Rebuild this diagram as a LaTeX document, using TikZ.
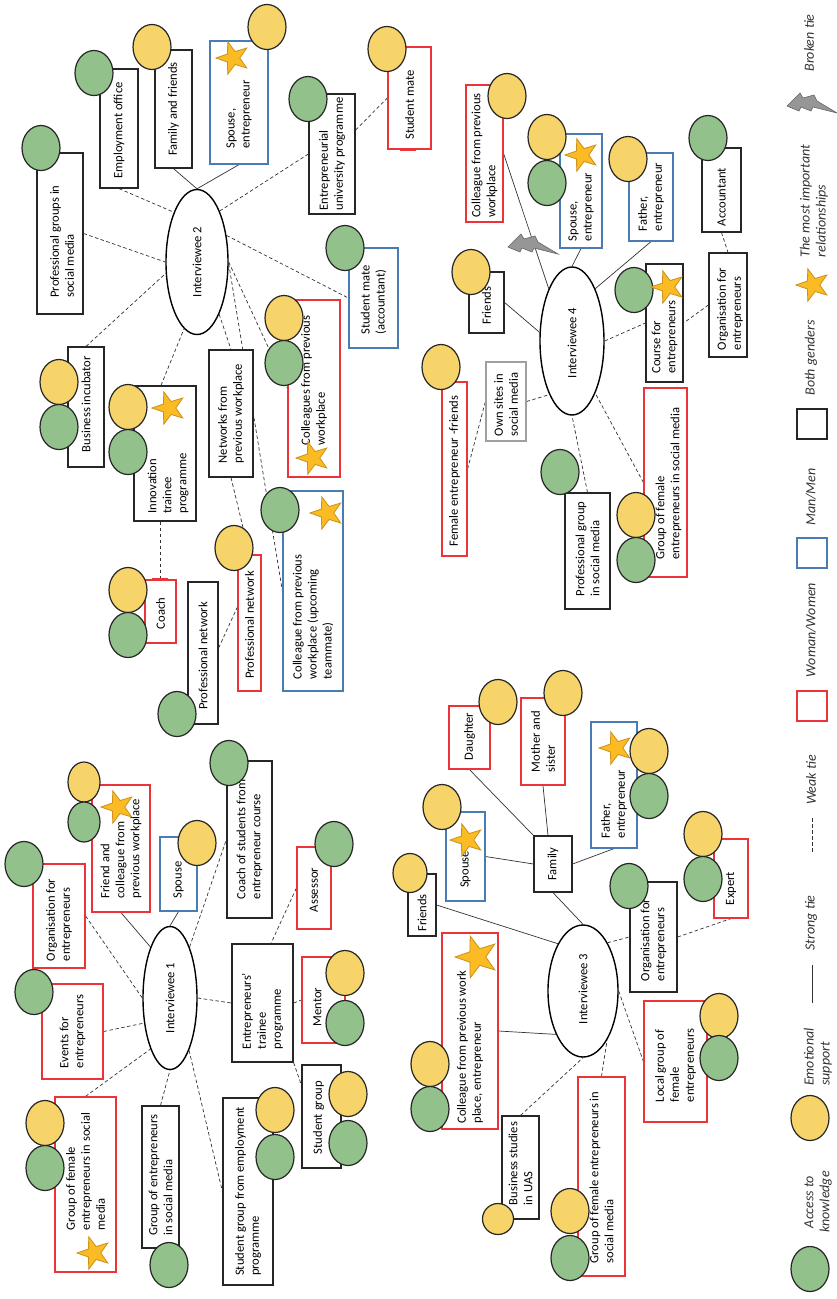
\documentclass[tikz,border=0pt]{standalone}
\usepackage{fontspec}
\setmainfont{Carlito}
\usetikzlibrary{shapes.geometric,backgrounds,calc}
\definecolor{yel}{RGB}{247,212,106}
\definecolor{grn}{RGB}{146,193,139}
\definecolor{redc}{RGB}{236,52,56}
\definecolor{bluec}{RGB}{72,124,178}
\definecolor{starf}{RGB}{251,187,36}
\definecolor{stard}{RGB}{205,145,25}
\definecolor{boltf}{RGB}{150,150,150}
\definecolor{boltd}{RGB}{100,100,100}
\newcommand\mkbox[9]{%
 \node[#2, minimum width={(#5)-(#3)}, minimum height={(#6)-(#4)}] (#1) at ({((#3)+(#5))/2},{((#4)+(#6))/2}) {};
 \node[txt] (#1-t) at ({((#3)+(#5))/2+(#7)},{((#4)+(#6))/2+(#8)}) {#9};}
\begin{document}
\begin{tikzpicture}[x=1pt,y=-1pt,
 bxs/.style={draw=black!85, line width=1.2pt, fill=white, inner sep=0pt},
 rbox/.style={bxs, draw=redc},
 bbox/.style={bxs, draw=bluec},
 gbox/.style={bxs, draw=gray!75},
 txt/.style={rotate=90, align=left, font=\fontsize{12.6}{15}\selectfont, inner sep=0pt},
 lgd/.style={rotate=90, align=left, font=\fontsize{14}{16}\selectfont\itshape, inner sep=0pt, text=black!80},
 yc/.style={ellipse, draw=black!85, line width=1.2pt, fill=yel, minimum width=38pt, minimum height=45pt, inner sep=0pt},
 gc/.style={yc, fill=grn},
 starn/.style={star, star points=5, star point ratio=2.5, fill=starf, draw=stard, line width=0.8pt, minimum size=34pt, inner sep=0pt, rotate=90},
 iv/.style={ellipse, draw=black, line width=1.4pt, fill=white, inner sep=0pt},
 strong/.style={draw=black!80, line width=0.7pt},
 weak/.style={draw=black!80, line width=0.7pt, dash pattern=on 3.5pt off 2.5pt},
 boltst/.style={fill=boltf, draw=boltd, line width=0.6pt, line join=miter},
 redbar/.style={draw=redc, line width=3pt}]
\useasboundingbox (0,0) rectangle (837,1299);
\begin{scope}[on background layer]
\fill[white] (0,0) rectangle (837,1299);
\end{scope}

% ---------------- Interviewee 2 ----------------
\node[iv, minimum width=62pt, minimum height=145pt] (i2) at (197,262) {};
\node[txt] (i2-t) at (197,262) {Interviewee 2};
\mkbox{apgs}{bxs}{37}{153}{83}{314}{2}{8}{Professional groups in\\social media}
\node[gc] (apgs-g) at (41,148) {};
\mkbox{aemp}{bxs}{100}{69}{138}{188}{0}{2}{Employment office}
\node[gc] (aemp-g) at (94,73) {};
\mkbox{aff}{bxs}{155}{50}{192}{168}{0}{0}{Family and friends}
\node[yc] (aff-y) at (152,47) {};
\mkbox{asp}{bbox}{210}{41}{268}{164}{0}{12}{Spouse,\\entrepreneur}
\node[yc] (asp-y) at (267,27) {};
\node[starn] (asp-s) at (233,58) {};
\mkbox{aeup}{bxs}{309}{94}{355}{214}{0}{0}{Entrepreneurial\\university programme}
\node[gc] (aeup-g) at (308,99) {};
\mkbox{asm}{rbox}{388}{47}{431}{149}{0}{7}{Student mate}
\node[yc] (asm-y) at (387,49) {};
\mkbox{asma}{bbox}{349}{248}{398}{348}{0}{2}{Student mate\\(accountant)}
\node[gc] (asma-g) at (345,248) {};
\mkbox{acol}{rbox}{288}{300}{340}{477}{0}{-8}{Colleagues from previous\\workplace}
\node[yc] (acol-y) at (284,318) {};
\node[gc] (acol-g) at (284,363) {};
\node[starn] (acol-s) at (313,458) {};
\mkbox{anet}{bxs}{209}{350}{253}{477}{0}{0}{Networks from\\previous workplace}
\mkbox{abi}{bxs}{68}{347}{104}{467}{0}{-3}{Business incubator}
\node[yc] (abi-y) at (59,382) {};
\node[gc] (abi-g) at (59,427) {};
\mkbox{aitp}{bxs}{134}{386}{196}{521}{3}{30}{Innovation\\trainee\\programme}
\node[yc] (aitp-y) at (128,407) {};
\node[gc] (aitp-g) at (128,452) {};
\node[starn] (aitp-s) at (169,408) {};
\mkbox{acoach}{rbox}{145}{580}{176}{643}{0}{2}{Coach}
\node[yc] (acoach-y) at (128,590) {};
\node[gc] (acoach-g) at (128,635) {};
\mkbox{apn}{bxs}{188}{582}{218}{724}{0}{3}{Professional network}
\node[gc] (apn-g) at (177,714) {};
\mkbox{apnr}{rbox}{238}{555}{261}{691}{0}{2}{Professional network}
\node[yc] (apnr-y) at (234,548) {};
\mkbox{aup}{bbox}{283}{491}{343}{691}{0}{26}{Colleague from previous\\workplace (upcoming\\teammate)}
\node[gc] (aup-g) at (280,510) {};
\node[starn] (aup-s) at (327,513) {};
\draw[redbar] ([xshift=-9.5pt]asm.south) -- ([xshift=6.5pt]asm.south);
\draw[redbar] ([xshift=-8.5pt]acoach.north) -- ([xshift=7.5pt]acoach.north);

% ---------------- Interviewee 4 ----------------
\node[iv, minimum width=64pt, minimum height=148pt] (i4) at (572,341) {};
\node[txt] (i4-t) at (572,343) {Interviewee 4};
\mkbox{bcol}{rbox}{466}{85}{503}{222}{0}{2}{Colleague from previous\\workplace}
\node[yc] (bcol-y) at (507,96) {};
\mkbox{bsp}{bbox}{560}{134}{602}{248}{0}{16}{Spouse,\\entrepreneur}
\node[yc] (bsp-y) at (547,137) {};
\node[gc] (bsp-g) at (547,183) {};
\node[starn] (bsp-s) at (582,155) {};
\mkbox{bfa}{bbox}{629}{153}{673}{241}{0}{0}{Father,\\entrepreneur}
\node[yc] (bfa-y) at (628,159) {};
\mkbox{bacc}{bxs}{702}{148}{741}{232}{0}{7}{Accountant}
\node[gc] (bacc-g) at (708,138) {};
\mkbox{borg}{bxs}{709}{253}{747}{357}{2}{4}{Organisation for\\entrepreneurs}
\mkbox{bcou}{bxs}{646}{264}{683}{382}{0}{14}{Course for\\entrepreneurs}
\node[gc] (bcou-g) at (634,290) {};
\node[starn] (bcou-s) at (668,287) {};
\mkbox{bfr}{bxs}{469}{272}{504}{333}{0}{3}{Friends}
\node[yc] (bfr-y) at (471,272) {};
\mkbox{bown}{gbox}{486}{362}{526}{441}{0}{3}{Own sites in\\social media}
\mkbox{bfef}{rbox}{442}{382}{467}{556}{0}{2}{Female entrepreneur -friends}
\node[yc] (bfef-y) at (441,367) {};
\mkbox{bpg}{bxs}{565}{493}{610}{609}{0}{-2}{Professional group\\in social media}
\node[gc] (bpg-g) at (560,472) {};
\mkbox{bgf}{rbox}{644}{388}{687}{577}{3}{1}{Group of female\\entrepreneurs in social media}
\node[yc] (bgf-y) at (636,515) {};
\node[gc] (bgf-g) at (636,560) {};

% ---------------- Interviewee 1 ----------------
\node[iv, minimum width=54pt, minimum height=143pt] (i1) at (170,998) {};
\node[txt] (i1-t) at (170,998) {Interviewee 1};
\mkbox{corg}{rbox}{33}{864}{85}{968}{0}{4}{Organisation for\\entrepreneurs}
\node[gc] (corg-g) at (24,864) {};
\mkbox{cev}{rbox}{42}{984}{103}{1079}{0}{0}{Events for\\entrepreneurs}
\node[gc] (cev-g) at (34,992) {};
\mkbox{cgf}{rbox}{55}{1097}{116}{1272}{0}{-13}{Group of female\\entrepreneurs in social\\media}
\node[yc] (cgf-y) at (45,1123) {};
\node[gc] (cgf-g) at (45,1168) {};
\node[starn] (cgf-s) at (94,1253) {};
\mkbox{cges}{bxs}{142}{1106}{179}{1248}{0}{-2}{Group of entrepreneurs\\in social media}
\node[gc] (cges-g) at (169,1265) {};
\mkbox{csge}{bxs}{223}{1098}{273}{1285}{0}{0}{Student group from employment\\programme}
\node[yc] (csge-y) at (275,1110) {};
\node[gc] (csge-g) at (275,1157) {};
\mkbox{cfc}{rbox}{92}{785}{150}{912}{0}{0}{Friend and\\colleague from\\previous workplace}
\node[yc, minimum width=32pt, minimum height=40pt] (cfc-y) at (84,782) {};
\node[gc, minimum width=32pt, minimum height=40pt] (cfc-g) at (84,822) {};
\node[starn] (cfc-s) at (118,807) {};
\mkbox{csp}{bbox}{160}{837}{197}{911}{0}{6}{Spouse}
\node[yc] (csp-y) at (197,843) {};
\mkbox{ccoach}{bxs}{227}{761}{272}{918}{0}{0}{Coach of students from\\entrepreneur course}
\node[gc] (ccoach-g) at (229,763) {};
\mkbox{cas}{rbox}{297}{847}{331}{929}{0}{2}{Assessor}
\node[gc] (cas-g) at (334,844) {};
\mkbox{cetp}{bxs}{232}{944}{293}{1062}{0}{8}{Entrepreneurs'\\trainee\\programme}
\mkbox{cmen}{rbox}{302}{957}{345}{1043}{-6}{7}{Mentor}
\node[yc] (cmen-y) at (345,973) {};
\node[gc] (cmen-g) at (345,1023) {};
\mkbox{csg}{bxs}{302}{1065}{341}{1168}{-3}{1}{Student group}
\node[yc] (csg-y) at (348,1094) {};
\node[gc] (csg-g) at (348,1143) {};

% ---------------- Interviewee 3 ----------------
\node[iv, minimum width=70pt, minimum height=132pt] (i3) at (583,991) {};
\node[txt] (i3-t) at (583,989) {Interviewee 3};
\mkbox{dfam}{bxs}{534}{836}{572}{892}{0}{0}{Family}
\mkbox{ddau}{rbox}{449}{706}{490}{769}{0}{-1}{Daughter}
\node[yc] (ddau-y) at (498,702) {};
\mkbox{dms}{rbox}{521}{698}{565}{785}{0}{0}{Mother and\\sister}
\node[yc] (dms-y) at (563,693) {};
\mkbox{dsp}{bbox}{446}{812}{485}{901}{0}{13}{Spouse}
\node[yc] (dsp-y) at (442,807) {};
\node[starn] (dsp-s) at (467,840) {};
\mkbox{dfr}{bxs}{408}{874}{436}{936}{0}{8}{Friends}
\node[yc, minimum width=34pt, minimum height=39pt] (dfr-y) at (410,873) {};
\mkbox{dfa}{bbox}{591}{722}{637}{848}{0}{19}{Father,\\entrepreneur}
\node[yc] (dfa-y) at (649,751) {};
\node[gc] (dfa-g) at (649,796) {};
\node[starn] (dfa-s) at (616,748) {};
\mkbox{dorg}{bxs}{630}{882}{677}{992}{0}{3}{Organisation for\\entrepreneurs}
\node[gc] (dorg-g) at (629,886) {};
\mkbox{dex}{rbox}{714}{839}{748}{918}{0}{10}{Expert}
\node[yc] (dex-y) at (703,834) {};
\node[gc] (dex-g) at (703,879) {};
\mkbox{dcol}{rbox}{442}{933}{498}{1129}{0}{16}{Colleague from previous work\\place, entrepreneur}
\node[yc] (dcol-y) at (430,1064) {};
\node[gc] (dcol-g) at (430,1109) {};
\node[starn, minimum size=44pt] (dcol-s) at (477,957) {};
\mkbox{dbs}{bxs}{502}{1116}{539}{1219}{0}{-4}{Business studies\\in UAS}
\node[yc, minimum width=31pt, minimum height=31pt] (dbs-y) at (498,1219) {};
\mkbox{dgf}{rbox}{578}{1077}{625}{1276}{0}{1}{Group of female entrepreneurs in\\social media}
\node[yc] (dgf-y) at (570,1211) {};
\node[gc] (dgf-g) at (570,1258) {};
\mkbox{dlg}{rbox}{644}{1001}{707}{1122}{0}{4}{Local group of\\female\\entrepreneurs}
\node[yc] (dlg-y) at (719,1016) {};
\node[gc] (dlg-g) at (719,1058) {};

% ---------------- connectors ----------------
\begin{scope}[on background layer]
% Interviewee 2
\draw[strong] (aff.south) -- (i2.north);
\draw[strong] (asp.south) -- (i2.north);
\draw[weak] (aemp.south) -- (i2.115);
\draw[weak] (apgs.east) -- (i2.180);
\draw[weak] (i2.66) -- (aeup.west);
\draw[weak] (i2.42) -- (asma.west);
\draw[weak] (i2.0) -- (acol.west);
\draw[weak] (i2.-67) -- (anet.north);
\draw[weak] (abi.north) -- (i2.200);
\draw[weak] ([xshift=-4pt]aitp.north) -- (i2.-101);
\draw[weak] (i2.-3) -- (aup.west);
\draw[weak] (acoach.north |- aitp.south) -- (acoach.north);
\draw[weak] (anet.south) -- (apnr.north);
\draw[weak] ([yshift=5pt]apn.east) -- ([yshift=16pt]apnr.west);
\draw[weak] ([yshift=24pt]aeup.east) -- (asm.west);
% Interviewee 4
\draw[strong] (bcol.east) -- (i4.114);
\draw[strong] (bsp.south) -- (i4.north);
\draw[strong] (bfa.south) -- (i4.66);
\draw[strong] (bfr.east) -- (i4.165);
\draw[weak] (bown.east) -- (i4.247);
\draw[weak] (i4.east) -- (bcou.west);
\draw[weak] (borg.west) -- (bcou.east);
\draw[weak] (bacc.south) -- (borg.north);
\draw[weak] (bpg.north) -- (i4.south);
\draw[weak] (bgf.west) -- (i4.-66);
\draw[weak] (bfef.east) -- (bown.west);
% Interviewee 1
\draw[strong] (cfc.south) -- (i1.111);
\draw[strong] (csp.south) -- (i1.north);
\draw[weak] (i1.69) -- (ccoach.west);
\draw[weak] (corg.east) -- (i1.west);
\draw[weak] (cev.east) -- (i1.224);
\draw[weak] (cgf.north) -- (i1.249);
\draw[weak] (cges.north) -- (i1.south);
\draw[weak] (i1.-70) -- (csge.west);
\draw[weak] (i1.east) -- (cetp.west);
\draw[weak] (cas.west) -- ([xshift=8.5pt]cetp.north);
\draw[weak] (cetp.east) -- (cmen.west);
\draw[weak] (cetp.south east) -- ([yshift=31.5pt]csg.west);
% Interviewee 3
\draw[strong] (dfam.south) -- (i3.north);
\draw[strong] (ddau.south) -- (dfam.north west);
\draw[strong] (dms.south) -- ([xshift=-5pt]dfam.north);
\draw[strong] (dsp.east) -- (dfam.west);
\draw[strong] (dfa.south) -- (dfam.east);
\draw[strong] (dfr.east) -- (i3.118);
\draw[strong] (dcol.east) -- (i3.238);
\draw[weak] (dbs.north) -- (i3.south);
\draw[weak] (dgf.north) -- (i3.-64);
\draw[weak] (i3.east) -- (dlg.west);
\draw[weak] (i3.63) -- (dorg.west);
\draw[weak] (dorg.east) -- (dex.south);
\end{scope}

% broken tie symbol
\draw[boltst, shift={(533,243)}] (-25,4) -- (-12,-9) -- (-9,-4) -- (2,-7) -- (5,-1) -- (25,11) -- (1,5) -- (-1,9) -- (-11,5) -- (-13,9) -- cycle;

% ---------------- legend ----------------
\node[lgd] (lbroken) at (809,43) {Broken tie};
\draw[boltst, shift={(812,102)}] (-25,4) -- (-12,-9) -- (-9,-4) -- (2,-7) -- (5,-1) -- (25,11) -- (1,5) -- (-1,9) -- (-11,5) -- (-13,9) -- cycle;
\node[lgd] (limp) at (814,201) {The most important\\relationships};
\node[starn] (lstar) at (813,285) {};
\node[lgd] (lboth) at (811,358) {Both genders};
\node[bxs, minimum size=30pt] (lbsq) at (812,424) {};
\node[lgd] (lman) at (811,497) {Man/Men};
\node[bbox, minimum size=30pt] (lmsq) at (812,553) {};
\node[lgd] (lwom) at (811,630) {Woman/Women};
\node[rbox, minimum size=30pt] (lwsq) at (812,706) {};
\node[lgd] (lweak) at (811,780) {Weak tie};
\coordinate (lw1) at (812,818);
\coordinate (lw2) at (812,853);
\draw[weak] (lw1) -- (lw2);
\node[lgd] (lstrong) at (811,923) {Strong tie};
\coordinate (ls1) at (812,965);
\coordinate (ls2) at (812,1003);
\draw[strong] (ls1) -- (ls2);
\node[lgd] (lemo) at (818,1057) {Emotional\\support};
\node[yc] (lyc) at (810,1118) {};
\node[lgd, align=center] (lacc) at (818,1202) {Access to\\knowledge};
\node[gc] (lgc) at (810,1269) {};
\end{tikzpicture}
\end{document}
